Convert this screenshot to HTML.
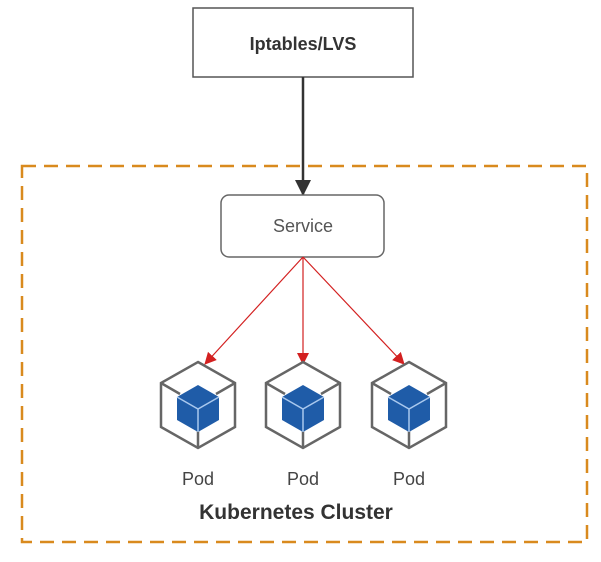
<!DOCTYPE html>
<html><head><meta charset="utf-8"><style>
body{margin:0;background:#fff;}
svg{display:block;}
</style></head><body>
<svg width="601" height="562" viewBox="0 0 601 562" xmlns="http://www.w3.org/2000/svg">
<defs>
<marker id="blk" markerWidth="16" markerHeight="18" refX="15" refY="9" orient="auto" markerUnits="userSpaceOnUse"><path d="M0,1 L16,9 L0,17 z" fill="#333"/></marker>
<marker id="red" markerWidth="12" markerHeight="12" refX="11" refY="6" orient="auto" markerUnits="userSpaceOnUse"><path d="M0,0 L12,6 L0,12 z" fill="#d32020"/></marker>
<g id="pod">
<path d="M0,-43 L37,-22 L37,22 L0,43 L-37,22 L-37,-22 Z" fill="#fff" stroke="#666" stroke-width="2.5"/>
<path d="M-37,-22 L-18,-11 M37,-22 L18,-11 M0,43 L0,26" stroke="#666" stroke-width="2.5"/>
<path d="M0,-20 L21,-8 L21,15 L0,27 L-21,15 L-21,-8 Z" fill="#1f5ca8"/>
<path d="M-21,-8 L0,4 L21,-8 M0,4 L0,27" stroke="#a9c8ee" stroke-width="1.5" fill="none"/>
</g>
</defs>
<rect x="22" y="166" width="565" height="376" fill="none" stroke="#d98a1e" stroke-width="2.5" stroke-dasharray="14,8"/>
<rect x="193" y="8" width="220" height="69" fill="#fff" stroke="#555" stroke-width="1.5"/>
<text x="303" y="50" text-anchor="middle" font-family="Liberation Sans, sans-serif" font-weight="bold" font-size="18" fill="#333">Iptables/LVS</text>
<line x1="303" y1="77" x2="303" y2="195" stroke="#333" stroke-width="2.5" marker-end="url(#blk)"/>
<rect x="221" y="195" width="163" height="62" rx="8" fill="#fff" stroke="#666" stroke-width="1.5"/>
<text x="303" y="232" text-anchor="middle" font-family="Liberation Sans, sans-serif" font-size="18" fill="#555">Service</text>
<g stroke="#d32020" stroke-width="1.2" fill="none">
<line x1="303" y1="257" x2="205" y2="364" marker-end="url(#red)"/>
<line x1="303" y1="257" x2="303" y2="364" marker-end="url(#red)"/>
<line x1="303" y1="257" x2="404" y2="364" marker-end="url(#red)"/>
</g>
<use href="#pod" x="198" y="405"/>
<use href="#pod" x="303" y="405"/>
<use href="#pod" x="409" y="405"/>
<g font-family="Liberation Sans, sans-serif" font-size="18" fill="#444" text-anchor="middle">
<text x="198" y="485">Pod</text><text x="303" y="485">Pod</text><text x="409" y="485">Pod</text>
</g>
<text x="296" y="519" text-anchor="middle" font-family="Liberation Sans, sans-serif" font-weight="bold" font-size="21" fill="#333">Kubernetes Cluster</text>
</svg>
</body></html>
